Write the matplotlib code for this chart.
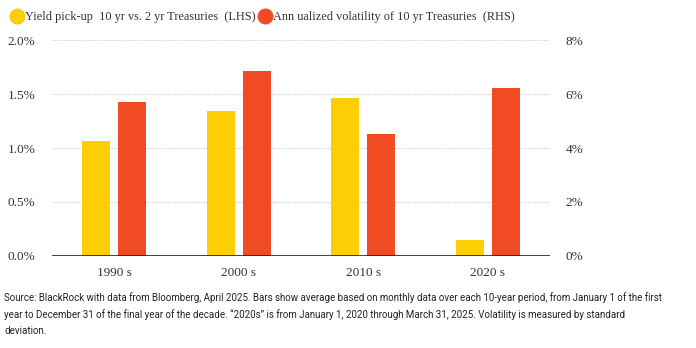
import numpy as np
import matplotlib
matplotlib.use("Agg")
import matplotlib.pyplot as plt
from matplotlib.lines import Line2D
from matplotlib.ticker import FuncFormatter

# data
decades = ["1990 s", "2000 s", "2010 s", "2020 s"]
pickup = [1.065, 1.34, 1.46, 0.15]        # % (LHS)
volatility = [5.70, 6.85, 4.52, 6.23]     # % (RHS)

YELLOW = "#FDCD06"
RED = "#F04B23"
TEXT = "#333333"
SERIF = ["Liberation Serif", "DejaVu Serif"]

fig = plt.figure(figsize=(6.96, 3.48), dpi=100)
ax = fig.add_axes([0.0747, 0.2644, 0.7155, 0.6206])
ax2 = ax.twinx()

x = np.arange(len(decades))
w = 0.225
off = 0.145
ax.bar(x - off, pickup, width=w, color=YELLOW, zorder=3)
ax2.bar(x + off, volatility, width=w, color=RED, zorder=3)

ax.set_xlim(-0.5, 3.5)
ax.set_ylim(0, 2.0)
ax2.set_ylim(0, 8)
ax.set_yticks([0, 0.5, 1.0, 1.5, 2.0])
ax2.set_yticks([0, 2, 4, 6, 8])
ax.yaxis.set_major_formatter(FuncFormatter(lambda v, p: f"{v:.1f}%"))
ax2.yaxis.set_major_formatter(FuncFormatter(lambda v, p: f"{v:.0f}%"))

ax.set_xticks(x)
ax.set_xticklabels(decades)

for a in (ax, ax2):
    for s in a.spines.values():
        s.set_visible(False)
    a.tick_params(length=0, colors=TEXT, labelsize=9.5)
    for lab in a.get_xticklabels() + a.get_yticklabels():
        lab.set_family(SERIF)
ax.tick_params(axis="y", pad=12)
ax2.tick_params(axis="y", pad=11)
ax.tick_params(axis="x", pad=8)

ax.grid(axis="y", color="#d0d0d0", linestyle=(0, (1, 1)), linewidth=0.8, zorder=0)
ax.set_axisbelow(True)
ax2.axhline(0, color="#222222", linewidth=1.2, zorder=5)

handles = [
    Line2D([], [], marker="o", ls="", markersize=10.5, color=YELLOW),
    Line2D([], [], marker="o", ls="", markersize=10.5, color=RED),
]
labels = ["Yield pick-up  10 yr vs. 2 yr Treasuries  (LHS)",
          "Ann ualized volatility of 10 yr Treasuries  (RHS)"]
fig.legend(handles, labels, loc="center left", bbox_to_anchor=(-0.003, 0.951),
           ncol=2, frameon=False, handletextpad=0.0, columnspacing=0.1,
           handlelength=1.3, prop={"family": SERIF, "size": 8.8},
           labelcolor=TEXT)

note = ("Source: BlackRock with data from Bloomberg, April 2025. Bars show average based on monthly data over each 10-year period, from January 1 of the first\n"
        "year to December 31 of the final year of the decade. \u201c2020s\u201d is from January 1, 2020 through March 31, 2025. Volatility is measured by standard\n"
        "deviation.")
fig.text(0.006, 0.098, note, ha="left", va="center", fontsize=7.0,
         family=["Roboto", "DejaVu Sans"], color="#222222", linespacing=1.75)

fig.savefig("out.png", dpi=100)
